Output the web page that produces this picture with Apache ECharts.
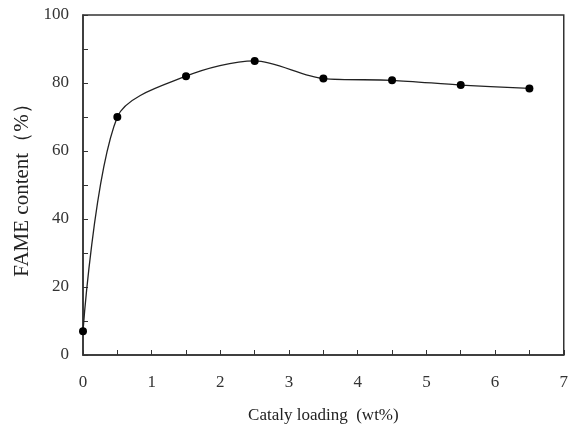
<!DOCTYPE html>
<html>
<head>
<meta charset="utf-8">
<script src="https://cdn.jsdelivr.net/npm/echarts@6/dist/echarts.min.js"></script>
<style>
  html, body { margin: 0; padding: 0; background: #fff; }
  #chart { width: 571px; height: 431px; }
</style>
</head>
<body>
<div id="chart"></div>
<script>
// Catalyst loading (wt%) vs FAME content (%)
const loading = [0, 0.5, 1.5, 2.5, 3.5, 4.5, 5.5, 6.5];
const fameContent = [7, 70, 82, 86.5, 81.3, 80.8, 79.4, 78.4];

const serif = 'Liberation Serif';
const chart = echarts.init(document.getElementById('chart'));

chart.setOption({
  backgroundColor: '#fff',
  animation: false,
  grid: {
    left: 83, right: 6, top: 15, bottom: 76,
    show: true, borderColor: '#333', borderWidth: 1.5
  },
  xAxis: {
    type: 'value',
    min: 0, max: 7, interval: 1,
    name: 'Cataly loading  (wt%)',
    nameLocation: 'middle',
    nameGap: 52,
    nameTextStyle: { fontFamily: serif, fontSize: 17, color: '#222' },
    axisLine: { show: true, lineStyle: { color: '#333', width: 1.5 } },
    axisTick: { show: true, inside: true, length: 5, lineStyle: { color: '#333' } },
    minorTick: { show: true, splitNumber: 2, length: 5, lineStyle: { color: '#333' } },
    axisLabel: { fontFamily: serif, fontSize: 17, color: '#333', margin: 19 },
    splitLine: { show: false }
  },
  yAxis: {
    type: 'value',
    min: 0, max: 100, interval: 20,
    name: 'FAME content（%）',
    nameLocation: 'middle',
    nameGap: 45,
    nameTextStyle: { fontFamily: serif, fontSize: 21, color: '#222' },
    axisLine: { show: true, lineStyle: { color: '#333', width: 1.5 } },
    axisTick: { show: true, inside: true, length: 5, lineStyle: { color: '#333' } },
    minorTick: { show: true, splitNumber: 2, length: 5, lineStyle: { color: '#333' } },
    axisLabel: { fontFamily: serif, fontSize: 17, color: '#333', margin: 14 },
    splitLine: { show: false }
  },
  series: [{
    type: 'line',
    data: loading.map((x, i) => [x, fameContent[i]]),
    smooth: 0.3,
    symbol: 'circle',
    symbolSize: 8,
    itemStyle: { color: '#000' },
    lineStyle: { color: '#222', width: 1.3 },
    clip: false
  }]
});
</script>
</body>
</html>
